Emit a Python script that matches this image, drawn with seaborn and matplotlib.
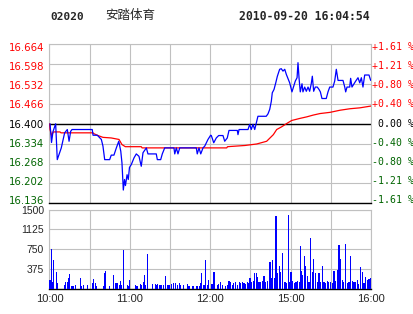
import matplotlib
matplotlib.use("Agg")
import matplotlib.pyplot as plt
import seaborn as sns
import pandas as pd
from matplotlib.transforms import blended_transform_factory, ScaledTranslation

# ---------------- data ----------------
stock_code = "02020"
stock_name = "安踏体育"
stamp = "2010-09-20 16:04:54"
prev_close = 16.400

price_ticks = [16.136, 16.202, 16.268, 16.334, 16.400, 16.466, 16.532, 16.598, 16.664]
price_labels = ["16.136", "16.202", "16.268", "16.334", "16.400", "16.466", "16.532", "16.598", "16.664"]
pct_labels = ["-1.61 %", "-1.21 %", "-0.80 %", "-0.40 %", " 0.00 %", "+0.40 %", "+0.80 %", "+1.21 %", "+1.61 %"]
vol_ticks = [375, 750, 1125, 1500]
vol_tick_labels = ["375", "750", "1125", "1500"]
time_ticks = [0, 30, 60, 90, 120, 150, 180, 210, 240]
time_labels = ["10:00", "", "11:00", "", "12:00", "", "15:00", "", "16:00"]

# minutes since 10:00 (lunch break removed) and last price
price_min = [0.4, 1.5, 2.6, 4.6, 5.8, 8.8, 11.3, 13.3, 14.6, 15.8, 16.8, 31.9, 32.5, 35.7,
             38.7, 39.9, 41.2, 44.9, 46.1, 48.1, 49.9, 51.7, 53.2, 54.1, 55.1, 56.0, 56.7,
             57.9, 58.8, 59.7, 61.1, 63.1, 64.8, 66.8, 68.5, 69.8, 72.3, 73.5, 79.7, 80.5,
             83.0, 84.2, 86.0, 92.9, 93.5, 94.7, 95.9, 97.2, 109.6, 110.3, 111.6, 112.9,
             114.6, 115.9, 118.3, 120.3, 120.8, 122.6, 124.5, 126.3, 129.5, 130.8, 132.7,
             134.0, 140.2, 140.7, 141.5, 148.2, 149.4, 150.6, 151.9, 153.2, 154.4, 155.6,
             161.8, 163.1, 164.4, 165.6, 166.3, 167.6, 168.9, 170.1, 171.8, 173.0, 174.3,
             175.6, 176.8, 178.0, 179.3, 181.0, 182.3, 183.5, 184.8, 185.5, 186.3, 187.2,
             188.5, 189.2, 190.5, 191.7, 193.0, 194.2, 195.4, 196.2, 197.2, 198.4, 199.9,
             201.2, 202.2, 203.4, 206.6, 207.9, 209.2, 211.6, 212.9, 214.1, 215.4, 219.1,
             220.4, 221.1, 222.1, 224.1, 224.8, 225.8, 227.3, 228.6, 230.3, 231.6, 232.8,
             234.0, 235.3, 238.5, 239.8]
price_val = [16.400, 16.338, 16.374, 16.400, 16.281, 16.320, 16.370, 16.381, 16.342, 16.375,
             16.381, 16.381, 16.362, 16.362, 16.348, 16.326, 16.281, 16.281, 16.296, 16.296,
             16.320, 16.342, 16.309, 16.270, 16.180, 16.215, 16.195, 16.231, 16.215, 16.255,
             16.265, 16.287, 16.300, 16.292, 16.259, 16.304, 16.320, 16.300, 16.300, 16.281,
             16.281, 16.300, 16.320, 16.320, 16.300, 16.320, 16.300, 16.320, 16.320, 16.300,
             16.320, 16.300, 16.320, 16.326, 16.348, 16.362, 16.361, 16.337, 16.353, 16.361,
             16.361, 16.342, 16.353, 16.378, 16.378, 16.364, 16.381, 16.381, 16.398, 16.381,
             16.398, 16.381, 16.403, 16.425, 16.425, 16.433, 16.448, 16.475, 16.503, 16.514,
             16.536, 16.558, 16.581, 16.583, 16.575, 16.581, 16.564, 16.551, 16.536, 16.506,
             16.525, 16.542, 16.553, 16.603, 16.551, 16.506, 16.533, 16.506, 16.522, 16.508,
             16.522, 16.508, 16.533, 16.558, 16.508, 16.522, 16.522, 16.514, 16.506, 16.484,
             16.484, 16.506, 16.522, 16.522, 16.542, 16.581, 16.544, 16.544, 16.522, 16.506,
             16.522, 16.522, 16.551, 16.522, 16.533, 16.542, 16.553, 16.536, 16.553, 16.522,
             16.562, 16.562, 16.544]

# average price line
avg_min = [0.0, 0.4, 1.6, 2.8, 7.8, 8.6, 32.5, 33.2, 36.2, 39.9, 46.1, 51.9, 54.1, 56.6,
           68.5, 69.1, 132.3, 132.9, 145.9, 154.7, 162.1, 164.6, 167.1, 169.6, 173.3,
           177.1, 180.8, 187.0, 192.0, 196.9, 201.9, 209.4, 216.8, 224.3, 231.7, 240.0]
avg_val = [16.400, 16.381, 16.361, 16.373, 16.373, 16.370, 16.370, 16.367, 16.361, 16.355,
           16.353, 16.348, 16.331, 16.324, 16.324, 16.320, 16.320, 16.324, 16.328, 16.333,
           16.342, 16.353, 16.364, 16.381, 16.390, 16.401, 16.411, 16.418, 16.423, 16.429,
           16.434, 16.438, 16.445, 16.450, 16.453, 16.459]

# volume per minute
vol_min = [0.4, 1.4, 2.1, 2.9, 5.1, 5.8, 11.1, 11.8, 13.3, 14.0, 14.8, 16.3, 17.0, 17.8,
           19.3, 23.0, 23.7, 25.2, 28.2, 32.0, 32.7, 34.2, 34.9, 40.2, 40.9, 41.7, 44.6,
           47.6, 49.1, 49.9, 50.6, 52.1, 52.9, 53.6, 55.1, 58.1, 58.8, 59.6, 64.0, 64.8,
           65.5, 67.8, 68.5, 70.0, 70.8, 71.5, 73.0, 76.7, 79.0, 79.7, 80.5, 82.0, 82.7,
           83.5, 85.0, 86.4, 87.9, 88.7, 89.4, 90.9, 92.4, 93.9, 95.4, 96.9, 97.6, 99.9,
           102.9, 103.6, 104.4, 106.6, 107.3, 109.6, 110.3, 111.8, 112.6, 113.3, 114.8,
           115.6, 116.3, 117.8, 118.5, 120.8, 121.5, 122.8, 125.3, 126.5, 127.8, 129.0,
           131.5, 132.7, 134.0, 135.3, 136.5, 137.7, 139.0, 140.2, 141.5, 142.7, 143.9,
           145.2, 146.5, 147.7, 148.9, 149.7, 150.9, 152.2, 152.9, 154.2, 155.1, 156.4,
           157.7, 158.9, 160.1, 161.4, 162.6, 163.9, 164.6, 165.9, 166.6, 167.8, 169.1,
           170.3, 171.6, 172.6, 173.8, 175.1, 176.3, 177.1, 178.3, 179.5, 180.3, 181.5,
           182.8, 184.0, 185.0, 186.3, 187.5, 188.3, 189.0, 190.2, 191.2, 192.5, 193.7,
           195.0, 196.2, 197.4, 198.7, 199.9, 201.2, 202.4, 203.6, 204.9, 206.2, 207.4,
           208.6, 209.9, 211.1, 212.4, 213.6, 214.8, 216.1, 217.4, 218.6, 219.8, 221.1,
           222.3, 223.6, 224.8, 226.0, 227.3, 228.6, 229.8, 231.0, 232.3, 233.5, 234.8,
           236.0, 237.2, 238.5, 239.3]
vol_val = [160, 750, 115, 540, 305, 95, 63, 115, 115, 200, 270, 45, 45, 45,
           63, 195, 45, 63, 63, 95, 180, 95, 45, 45, 290, 330, 45,
           255, 100, 100, 100, 63, 140, 63, 730, 63, 45, 160, 63, 45,
           45, 82, 63, 120, 255, 63, 650, 82, 82, 63, 82, 63, 63,
           63, 63, 235, 63, 63, 63, 82, 100, 100, 63, 100, 63, 63,
           82, 45, 45, 45, 45, 45, 45, 45, 100, 290, 63,
           63, 540, 63, 160, 82, 76, 304, 63, 76, 114, 63,
           51, 63, 140, 114, 63, 95, 114, 63, 114, 95, 114,
           95, 76, 114, 95, 203, 114, 140, 285, 285, 222, 127,
           114, 140, 240, 114, 140, 114, 494, 190, 538, 190, 1374,
           285, 430, 316, 665, 114, 114, 95, 1393, 114, 304, 140,
           95, 114, 140, 114, 804, 329, 253, 614, 430, 240, 114,
           962, 304, 557, 285, 114, 285, 127, 430, 114, 95, 140,
           114, 114, 95, 329, 140, 348, 823, 557, 158, 114, 842,
           95, 114, 620, 140, 114, 114, 158, 76, 411, 316, 95,
           222, 158, 177, 190]

# ---------------- style ----------------
sns.set_style("white")
plt.rcParams["font.family"] = ["DejaVu Sans"]

RED = "#ff0000"
GREEN = "#006400"
BLUE = "#0000ff"
GRID = "#c0c0c0"

W, H = 414, 314
fig = plt.figure(figsize=(W / 100, H / 100), dpi=100)
fig.patch.set_facecolor("white")

L, R = 49.5, 371.0
def rect(top, bottom):
    return [L / W, 1 - bottom / H, (R - L) / W, (bottom - top) / H]

ax1 = fig.add_axes(rect(44.3, 203.3))
ax2 = fig.add_axes(rect(209.5, 288.5))

price_df = pd.DataFrame({"minute": price_min, "price": price_val})
avg_df = pd.DataFrame({"minute": avg_min, "price": avg_val})

def px_shift(dy_px):
    # positive dy_px moves text downward (in pixels)
    return ScaledTranslation(0, -dy_px / 100.0, fig.dpi_scale_trans)

# ---- price panel ----
ax1.set_xlim(0, 240)
ax1.set_ylim(price_ticks[0], price_ticks[-1])
ax1.set_xticks(time_ticks)
ax1.set_xticklabels([])
ax1.set_yticks(price_ticks)
ax1.set_yticklabels(price_labels)
ax1.grid(True, color=GRID, lw=0.8)
ax1.tick_params(length=0, pad=4)
for i, (lab, v) in enumerate(zip(ax1.get_yticklabels(), price_ticks)):
    lab.set_fontsize(7.3)
    lab.set_color(RED if v > prev_close + 1e-9 else (GREEN if v < prev_close - 1e-9 else "black"))
    lab.set_transform(lab.get_transform() + px_shift(-3.3 + 0.75 * i))
ax1.axhline(prev_close, color="black", lw=1.0, zorder=2)
for s in ["top", "left", "right"]:
    ax1.spines[s].set_color(GRID)
    ax1.spines[s].set_linewidth(0.8)
ax1.spines["bottom"].set_color("black")
ax1.spines["bottom"].set_linewidth(1.0)

sns.lineplot(data=avg_df, x="minute", y="price", ax=ax1, color=RED, lw=0.9,
             sort=False, zorder=3)
sns.lineplot(data=price_df, x="minute", y="price", ax=ax1, color=BLUE, lw=0.9,
             sort=False, zorder=4)
ax1.set_xlabel("")
ax1.set_ylabel("")

trans = blended_transform_factory(ax1.transAxes, ax1.transData)
for i, (v, t) in enumerate(zip(price_ticks, pct_labels)):
    col = RED if t.startswith("+") else (GREEN if t.startswith("-") else "black")
    ax1.text(1.002, v, t, transform=trans + px_shift(-3.3 + 0.75 * i), ha="left",
             va="center", fontsize=7.1, family="DejaVu Sans Mono", color=col)

# ---- volume panel ----
ax2.set_xlim(0, 240)
ax2.set_ylim(0, 1500)
ax2.bar(vol_min, vol_val, width=0.8, color=BLUE, linewidth=0, zorder=3,
        antialiased=False)
ax2.set_xticks(time_ticks)
ax2.set_xticklabels(time_labels, fontsize=8, family="Liberation Sans")
ax2.set_yticks(vol_ticks)
ax2.set_yticklabels(vol_tick_labels, fontsize=7.5, family="Liberation Sans")
for i, lab in enumerate(ax2.get_yticklabels()):
    lab.set_transform(lab.get_transform() + px_shift(1.0 + 0.6 * i))
ax2.grid(True, color=GRID, lw=0.8)
ax2.tick_params(length=0, pad=4)
for s in ["top", "left", "right"]:
    ax2.spines[s].set_color(GRID)
    ax2.spines[s].set_linewidth(0.8)
ax2.spines["bottom"].set_color("black")
ax2.spines["bottom"].set_linewidth(1.0)

# ---- header ----
fig.text(50 / W, 1 - 16.5 / H, stock_code, ha="left", va="center", fontsize=8,
         family="DejaVu Sans Mono", fontweight="bold")
fig.text(105 / W, 1 - 16 / H, stock_name, ha="left", va="center", fontsize=9,
         family=["Noto Sans CJK SC", "DejaVu Sans"])
fig.text(370 / W, 1 - 16.5 / H, stamp, ha="right", va="center", fontsize=8.3,
         family="DejaVu Sans Mono", fontweight="bold")

fig.savefig("out.png", dpi=100, facecolor="white")
